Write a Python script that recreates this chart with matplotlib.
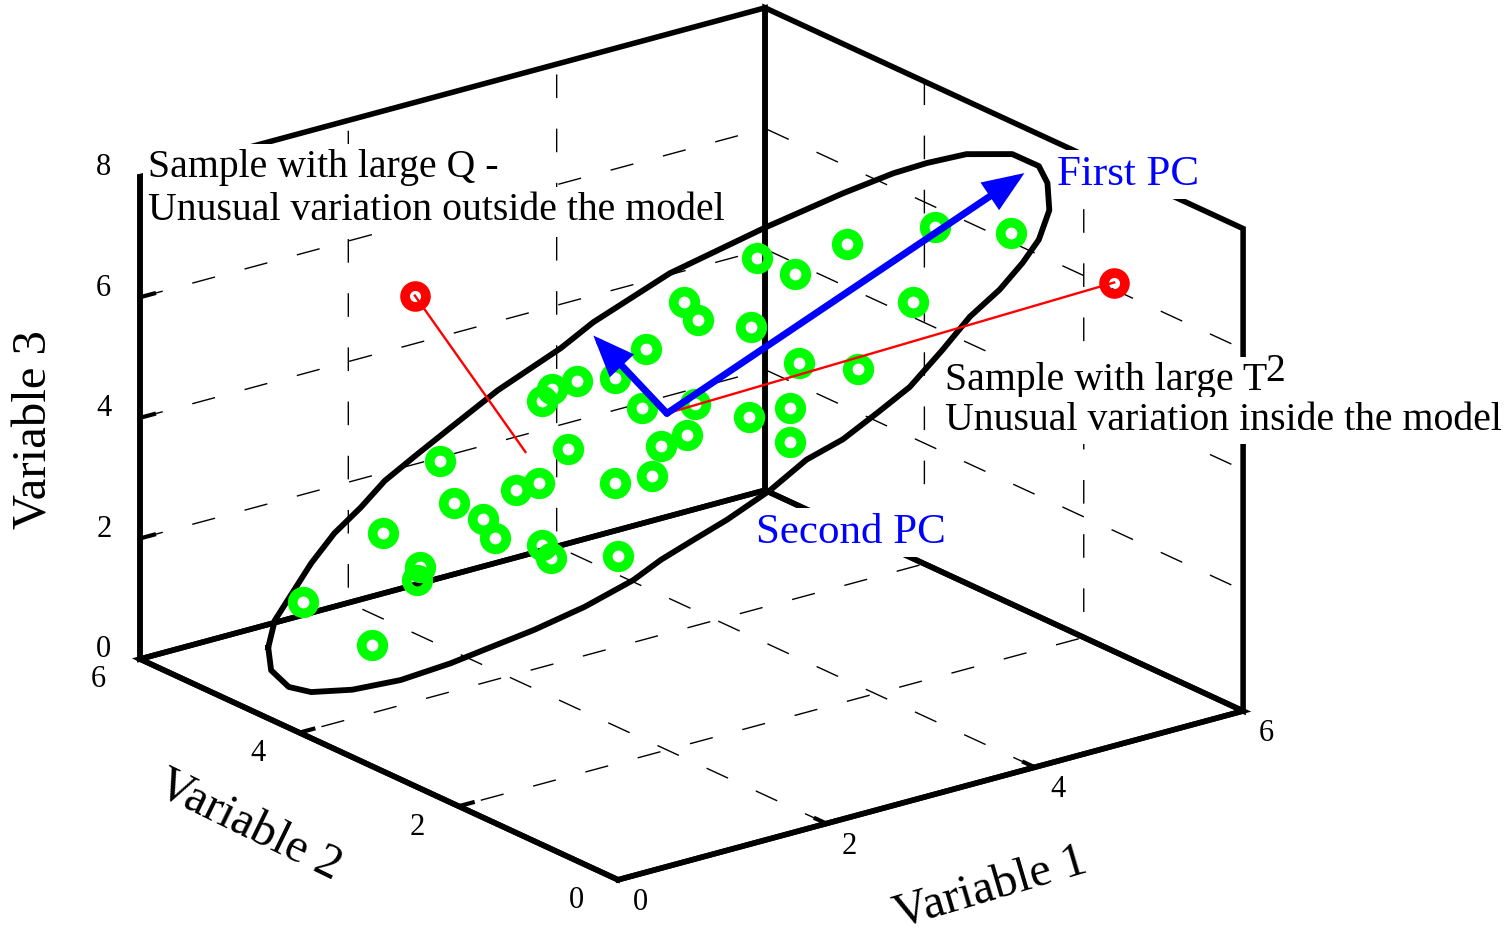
import numpy as np
import matplotlib.pyplot as plt
from matplotlib.patches import FancyArrowPatch, ArrowStyle
from mpl_toolkits.mplot3d import proj3d

plt.rcParams['font.family'] = ['Liberation Serif', 'DejaVu Serif']
plt.rcParams['grid.color'] = 'black'
plt.rcParams['grid.linewidth'] = 1.0
plt.rcParams['grid.linestyle'] = (0, (17, 22))
plt.rcParams['axes.linewidth'] = 4.0
plt.rcParams['xtick.major.width'] = 3
plt.rcParams['ytick.major.width'] = 3

# normal samples (Variable 1, Variable 2, Variable 3)
var1 = [0.62, 1.10, 1.17, 1.42, 1.40, 1.56, 1.65, 1.85, 1.93, 2.07,
        2.23, 2.25, 2.31, 2.25, 2.32, 2.49, 2.43, 2.75, 2.77, 2.75,
        2.93, 2.96, 3.00, 3.06, 3.24, 3.22, 3.31, 3.29, 3.66, 3.67,
        3.71, 3.97, 4.00, 3.94, 3.94, 4.32, 4.40, 4.77, 4.92, 5.44]
var2 = [4.77, 4.52, 4.48, 4.34, 4.35, 4.27, 4.22, 4.11, 4.07, 3.99,
        3.91, 3.90, 3.86, 3.90, 3.86, 3.77, 3.80, 3.63, 3.62, 3.63,
        3.53, 3.52, 3.49, 3.46, 3.37, 3.38, 3.33, 3.34, 3.14, 3.13,
        3.11, 2.97, 2.96, 2.99, 2.99, 2.78, 2.74, 2.54, 2.46, 2.18]
var3 = [1.40, 0.62, 2.48, 1.87, 1.66, 3.61, 2.90, 2.62, 2.28, 3.07,
        3.15, 2.12, 1.90, 4.51, 4.71, 4.81, 3.69, 3.08, 1.87, 4.82,
        4.30, 5.27, 3.16, 3.65, 3.81, 6.02, 5.70, 4.32, 4.05, 5.54,
        6.68, 6.38, 4.90, 4.16, 3.60, 6.83, 4.75, 5.81, 7.03, 6.86]

# outline of the model region
lim1 = [0.39, 0.43, 0.55, 0.68, 0.84, 1.02, 1.18, 1.41, 1.63, 1.95,
        2.38, 2.60, 3.12, 3.77, 4.30, 4.64, 4.97, 5.34, 5.65, 5.63,
        5.69, 5.70, 5.63, 5.52, 5.36, 5.16, 4.97, 4.75, 4.53, 4.30,
        4.05, 3.80, 3.51, 3.28, 3.06, 2.87, 2.54, 2.20, 1.86, 1.63,
        1.24, 0.86, 0.58, 0.48, 0.41]
lim2 = [4.90, 4.87, 4.81, 4.74, 4.66, 4.56, 4.47, 4.35, 4.23, 4.06,
        3.83, 3.71, 3.43, 3.08, 2.80, 2.61, 2.62, 2.61, 2.44, 2.08,
        2.05, 2.04, 2.08, 2.14, 2.22, 2.33, 2.43, 2.55, 2.67, 2.80,
        2.93, 3.06, 3.22, 3.34, 3.46, 3.56, 3.74, 3.93, 4.11, 4.23,
        4.35, 4.46, 4.61, 4.76, 4.89]
lim3 = [0.68, 1.13, 1.56, 2.04, 2.51, 2.92, 3.34, 3.76, 4.16, 4.73,
        5.37, 5.77, 6.51, 7.18, 7.67, 7.96, 7.97, 7.95, 7.91, 7.94,
        7.65, 7.20, 6.72, 6.35, 5.93, 5.51, 4.98, 4.40, 4.00, 3.59,
        3.29, 2.82, 2.37, 2.07, 1.77, 1.46, 1.06, 0.72, 0.44, 0.25,
        0.08, 0.03, 0.03, 0.07, 0.30]

center = (3.10, 3.44, 4.19)
pc1_tip = (5.53, 2.13, 7.84)
pc2_tip = (2.60, 3.71, 5.55)
q_sample = (0.88, 3.70, 7.02)
q_foot = (2.14, 3.96, 3.68)
t2_sample = (5.84, 1.41, 6.32)

ticks12 = [0, 2, 4, 6]
ticks3 = [0, 2, 4, 6, 8]


class Arrow3D(FancyArrowPatch):
    def __init__(self, xs, ys, zs, *args, **kwargs):
        super().__init__((0, 0), (0, 0), *args, **kwargs)
        self._verts3d = xs, ys, zs

    def do_3d_projection(self, renderer=None):
        xs, ys, zs = proj3d.proj_transform(*self._verts3d, self.axes.M)
        self.set_positions((xs[0], ys[0]), (xs[1], ys[1]))
        return np.min(zs)


W, H = 1512, 936
fig = plt.figure(figsize=(W / 100, H / 100), dpi=100)
ax = fig.add_axes([0.05297, -0.12742, 0.78750, 1.27212],
                  projection='3d', computed_zorder=False)
ax.set_proj_type('ortho')
ax.view_init(elev=20.68, azim=-127.41)
ax.set_box_aspect((1, 1, 0.6552))
ax.set_xlim(0, 6)
ax.set_ylim(0, 6)
ax.set_zlim(0, 8)
ax.set_xticks(ticks12)
ax.set_yticks(ticks12)
ax.set_zticks(ticks3)
ax.set_facecolor('none')

for axis in (ax.xaxis, ax.yaxis, ax.zaxis):
    axis.set_pane_color((1, 1, 1, 0))
    axis.pane.set_alpha(None)
    axis.pane.set_closed(True)
    axis.pane.set_facecolor((1, 1, 1, 0))
    axis.pane.set_edgecolor('black')
    axis.pane.set_linewidth(4.0)
    axis._axinfo['tick']['inward_factor'] = 0.0
    axis._axinfo['tick']['outward_factor'] = 0.28

ax.tick_params(axis='x', labelsize=22, pad=6.3)
ax.tick_params(axis='y', labelsize=22, pad=16.3)
ax.tick_params(axis='z', labelsize=22, pad=6.65)
for lbl in ax.get_xticklabels():
    lbl.set_ha('left')
    lbl.set_va('center')
for lbl in ax.get_yticklabels():
    lbl.set_ha('right')
    lbl.set_va('bottom')
for lbl in ax.get_zticklabels():
    lbl.set_ha('center')
    lbl.set_va('baseline')

# model boundary, samples and the two outliers
ax.plot(lim1 + lim1[:1], lim2 + lim2[:1], lim3 + lim3[:1],
        color='black', lw=4.2, zorder=2)
ax.plot(var1, var2, var3, linestyle='none', marker='o', ms=15.5,
        mfc='none', mec='#00ff00', mew=7, zorder=3)
ax.plot(*zip(q_sample, q_foot), color='red', lw=1.7, zorder=4)
ax.plot(*zip(t2_sample, center), color='red', lw=1.7, zorder=4)
ax.plot(*zip(q_sample, t2_sample), linestyle='none', marker='o', ms=15,
        mfc='none', mec='red', mew=7, zorder=5)

head = ArrowStyle('-|>', head_length=0.8, head_width=0.32)
for tip in (pc1_tip, pc2_tip):
    ax.add_artist(Arrow3D(*zip(center, tip), arrowstyle=head,
                          mutation_scale=26, color='blue', lw=5,
                          shrinkA=0, shrinkB=0, joinstyle='miter',
                          zorder=6))

box = dict(boxstyle='square,pad=0.12', fc='white', ec='none')


def note(px, py, s, size=28.6, color='black', bbox=box):
    fig.text(px / W, 1 - py / H, s, fontsize=size, color=color,
             ha='left', va='baseline', bbox=bbox)


note(148, 177, 'Sample with large Q -')
note(148, 220, 'Unusual variation outside the model')
note(945, 390, 'Sample with large T')
note(1265, 381, '2', bbox=None)
note(945, 430, 'Unusual variation inside the model')
note(1057, 185, 'First PC', size=31, color='blue')
note(756, 543, 'Second PC', size=31, color='blue')

fig.text(35 / W, 1 - 430 / H, 'Variable 3', fontsize=35, rotation=90,
         ha='center', va='center', rotation_mode='anchor')
fig.text(249 / W, 1 - 826 / H, 'Variable 2', fontsize=35, rotation=-26,
         ha='center', va='center', rotation_mode='anchor')
fig.text(991 / W, 1 - 889 / H, 'Variable 1', fontsize=35, rotation=16.5,
         ha='center', va='center', rotation_mode='anchor')

fig.savefig('out.png', dpi=100)
